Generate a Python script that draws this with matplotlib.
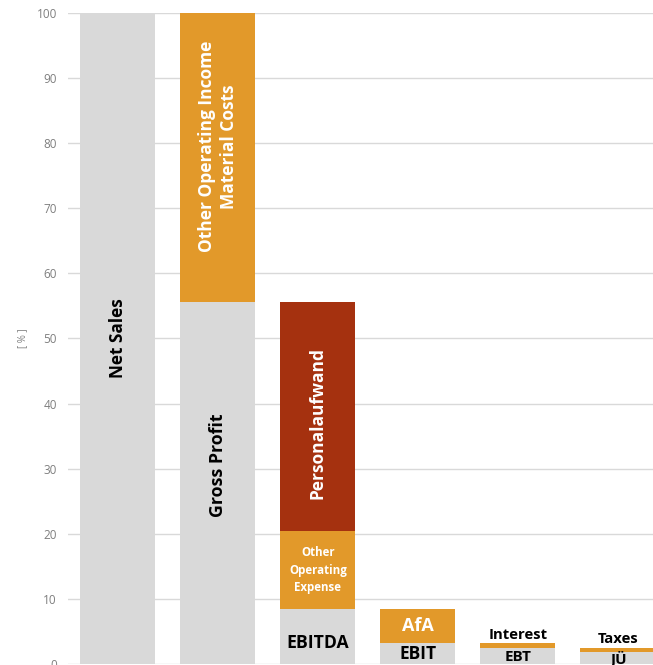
import matplotlib.pyplot as plt

# waterfall of the income statement, values in % of net sales
categories = ['Net Sales', 'Gross Profit', 'EBITDA', 'EBIT', 'EBT', 'JÜ']
remaining = [100, 55.6, 8.4, 3.2, 2.5, 1.9]

# deductions between consecutive steps (stacked on top of the gray bar)
step_names = ['Gross Profit', 'EBITDA', 'EBITDA', 'EBIT', 'EBT', 'JÜ']
step_items = ['Other Operating Income\nMaterial Costs', 'Other\nOperating\nExpense',
              'Personalaufwand', 'AfA', 'Interest', 'Taxes']
step_values = [44.4, 12.0, 35.2, 5.2, 0.7, 0.6]

gray = '#d9d9d9'
orange = '#e2992a'
darkred = '#a5310f'
item_colors = {'Personalaufwand': darkred}

plt.rcParams['font.family'] = ['Open Sans', 'DejaVu Sans']

fig = plt.figure(figsize=(6.53, 6.65), dpi=100)
ax = fig.add_axes([0.104, 0.0015, 0.896, 0.979])

x = list(range(len(categories)))
ax.bar(x, remaining, width=0.75, color=gray, zorder=2)

bottoms = dict(zip(categories, remaining))
segs = []
for name, item, val in zip(step_names, step_items, step_values):
    i = categories.index(name)
    b = bottoms[name]
    ax.bar(i, val, bottom=b, width=0.75, color=item_colors.get(item, orange), zorder=2)
    segs.append((i, b, val, item))
    bottoms[name] = b + val

# labels inside the gray bars
ax.text(0, 50, 'Net Sales', rotation=90, ha='center', va='center',
        fontsize=12.4, fontweight='bold', color='black')
ax.text(1, 30.6, 'Gross Profit', rotation=90, ha='center', va='center',
        fontsize=12.8, fontweight='bold', color='black')
ax.text(2, 3.2, 'EBITDA', ha='center', va='center', fontsize=12.7, fontweight='bold')
ax.text(3, 1.6, 'EBIT', ha='center', va='center', fontsize=12.5, fontweight='bold')
ax.text(4, 1.0, 'EBT', ha='center', va='center', fontsize=11, fontweight='bold')
ax.text(5, 0.7, 'JÜ', ha='center', va='center', fontsize=11, fontweight='bold')

# labels of the deductions
for i, b, val, item in segs:
    if item.startswith('Other Operating Income'):
        ax.text(i, 79.5, item, rotation=90, ha='center', va='center', color='white',
                fontsize=12.5, fontweight='bold', linespacing=1.3)
    elif item == 'Personalaufwand':
        ax.text(i, 37, item, rotation=90, ha='center', va='center', color='white',
                fontsize=12.5, fontweight='bold')
    elif item.startswith('Other'):
        ax.text(i, b + val / 2, item, ha='center', va='center', color='white',
                fontsize=8.3, fontweight='bold', linespacing=1.45)
    elif item == 'AfA':
        ax.text(i, b + val / 2, item, ha='center', va='center', color='white',
                fontsize=13, fontweight='bold')
    else:
        ax.text(i, b + val + 0.2, item, ha='center', va='bottom', color='black',
                fontsize=10.7, fontweight='bold')

ax.set_xlim(-0.5, 5.35)
ax.set_ylim(0, 100)
ax.set_yticks(range(0, 101, 10))
ax.set_xticks([])
ax.grid(axis='y', color='#d9d9d9', linewidth=1, zorder=0)
for s in ax.spines.values():
    s.set_visible(False)
ax.tick_params(axis='y', length=0, labelsize=8.5, labelcolor='#7f7f7f', pad=8)
ax.set_ylabel('[ % ]', fontsize=7, color='#7f7f7f', labelpad=6)

fig.savefig('out.png', dpi=100)
